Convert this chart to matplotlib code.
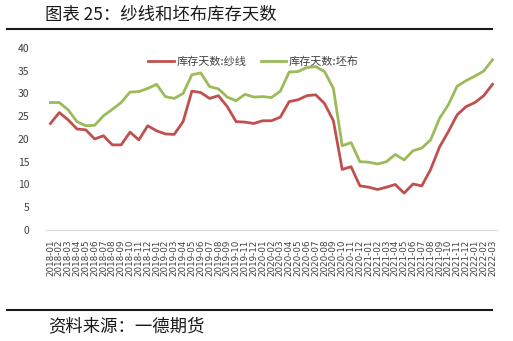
import matplotlib
matplotlib.use('Agg')
import matplotlib.pyplot as plt
from matplotlib.lines import Line2D

plt.rcParams['font.family'] = ['Noto Sans CJK SC', 'DejaVu Sans']

# 月份标签 2018-01 ~ 2022-03
meses = [f'{a}-{m:02d}' for a in range(2018, 2023) for m in range(1, 13)][:51]

# 库存天数:纱线
sha_xian = [23.4, 25.8, 24.2, 22.2, 22.0, 20.0, 20.7, 18.7, 18.7, 21.5, 19.8, 22.9,
            21.8, 21.1, 21.0, 23.8, 30.5, 30.2, 28.9, 29.5, 27.1, 23.8, 23.7, 23.4,
            24.0, 24.0, 24.8, 28.2, 28.6, 29.5, 29.7, 27.8, 24.0, 13.3, 13.9, 9.7,
            9.4, 8.9, 9.4, 10.0, 8.1, 10.1, 9.7, 13.3, 18.2, 21.6, 25.3, 27.1,
            28.0, 29.5, 32.0]

# 库存天数:坯布
pi_bu = [28.0, 28.0, 26.4, 23.8, 22.9, 23.0, 25.1, 26.5, 28.0, 30.3, 30.4, 31.1,
         32.0, 29.3, 28.9, 30.0, 34.1, 34.5, 31.5, 31.0, 29.2, 28.4, 29.8, 29.2,
         29.3, 29.1, 30.5, 34.7, 34.8, 35.7, 35.9, 34.8, 31.1, 18.5, 19.2, 15.0,
         14.9, 14.5, 15.0, 16.6, 15.4, 17.4, 18.0, 19.8, 24.5, 27.5, 31.6, 32.8,
         33.8, 34.9, 37.4]

fig = plt.figure(figsize=(5.13, 3.41), dpi=100)
ax = fig.add_axes([0.0897, 0.3255, 0.879, 0.534])

x = range(len(meses))
ax.plot(x, sha_xian, color='#C0504D', lw=2.0, label='库存天数:纱线')
ax.plot(x, pi_bu, color='#9BBB59', lw=2.0, label='库存天数:坯布')

ax.set_xlim(-0.5, len(meses) - 0.5)
ax.set_ylim(0, 40)
ax.set_yticks(range(0, 41, 5))
ax.set_xticks(list(x))
ax.set_xticklabels(meses, rotation=90, fontsize=6.3, color='#404040', family='DejaVu Sans')
for lab in ax.get_yticklabels():
    lab.set_fontsize(7.5)
    lab.set_color('#404040')
ax.tick_params(axis='both', length=0)
ax.tick_params(axis='x', pad=7)
ax.tick_params(axis='y', pad=12)
for s in ['top', 'right', 'left']:
    ax.spines[s].set_visible(False)
ax.spines['bottom'].set_color('#D9D9D9')

ax.legend(loc='center', bbox_to_anchor=(0.46, 0.923), ncol=2, frameon=False,
          fontsize=8, handlelength=2.3, columnspacing=1.3, handletextpad=0.25,
          labelcolor='#404040')

# 标题与来源
fig.text(0.088, 0.958, '图表 25：纱线和坯布库存天数', fontsize=12.5, va='center', color='#1a1a1a')
fig.add_artist(Line2D([0.014, 0.96], [0.915, 0.915], color='#1a1a1a', lw=1.5))
fig.add_artist(Line2D([0.014, 0.96], [0.091, 0.091], color='#1a1a1a', lw=1.5))
fig.text(0.094, 0.044, '资料来源：一德期货', fontsize=12.5, va='center', color='#1a1a1a')

fig.savefig('out.png', dpi=100)
